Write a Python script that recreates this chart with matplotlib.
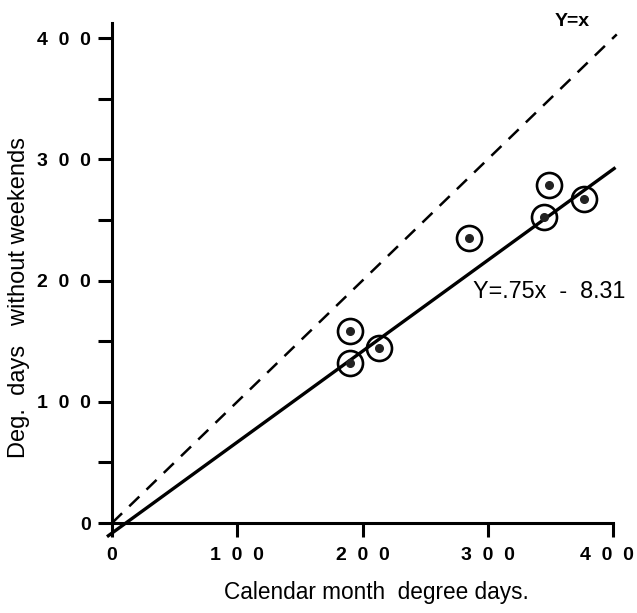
import matplotlib
matplotlib.use("Agg")
import matplotlib.pyplot as plt
import matplotlib.transforms as mtransforms
import numpy as np

# Data
cal_deg_days = [285, 349, 345, 377, 190, 190, 213]
deg_days_no_weekends = [235, 279, 252, 267, 158, 132, 144]
fit_slope = 0.75
fit_intercept = -8.31
major_ticks = [0, 100, 200, 300, 400]
minor_ticks = [50, 150, 250, 350]
x_tick_labels = ['0', '1  0  0', '2  0  0', '3  0  0', '4  0  0']
y_tick_labels = ['0', '1  0  0', '2  0  0', '3  0  0', '4  0  0']

plt.rcParams['font.family'] = ['Liberation Sans', 'DejaVu Sans']

fig = plt.figure(figsize=(6.37, 6.13), dpi=100)
ax = fig.add_axes([112/637, 1-523/613, 501/637, 500/613])

ax.set_xlim(0, 400)
ax.set_ylim(0, 412.4)

# y = x dashed
xd = np.array([0, 403])
ax.plot(xd, xd, ls=(0, (5.6, 4.0)), color='black', lw=1.8, clip_on=False)

# regression line
xf = np.array([-4, 402])
ax.plot(xf, fit_slope*xf + fit_intercept, color='black', lw=2.4, clip_on=False,
        solid_capstyle='butt')

# circled points
ax.plot(cal_deg_days, deg_days_no_weekends, 'o', ms=18, mfc='none', mec='black',
        mew=1.9, clip_on=False)
ax.plot(cal_deg_days, deg_days_no_weekends, 'o', ms=5.5, color='#222222', clip_on=False)

for s in ['top', 'right']:
    ax.spines[s].set_visible(False)
for s in ['left', 'bottom']:
    ax.spines[s].set_linewidth(2.2)

ax.set_xticks(major_ticks)
ax.set_xticklabels(x_tick_labels, fontweight='bold', fontsize=14)
ax.set_yticks(major_ticks)
ax.set_yticklabels(y_tick_labels, fontweight='bold', fontsize=14)
ax.set_yticks(minor_ticks, minor=True)
ax.tick_params(axis='both', which='both', direction='out', length=10, width=2.2)
ax.tick_params(axis='x', pad=7)
ax.tick_params(axis='y', pad=5)

# last x tick label sits slightly left of its tick in the reference
last = ax.get_xticklabels()[-1]
last.set_transform(last.get_transform() +
                   mtransforms.ScaledTranslation(-6/100, 0, fig.dpi_scale_trans))

fig.text(555/637, 1-21/613, 'Y=x', fontsize=14, fontweight='bold',
         va='center', ha='left')
fig.text(473/637, 1-292/613, 'Y=.75x  -  8.31', fontsize=16.8, va='center', ha='left')

fig.text(376/637, 1-593/613, 'Calendar month  degree days.', fontsize=16.3,
         ha='center', va='center')
fig.text(19/637, 1-297/613, 'Deg.  days   without weekends', fontsize=17,
         rotation=90, ha='center', va='center')

fig.savefig('out.png', dpi=100)
